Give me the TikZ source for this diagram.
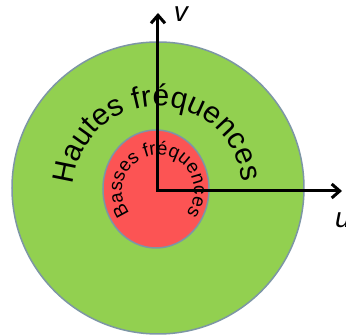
\documentclass[tikz,border=0pt]{standalone}
\usepackage{fontspec}
\setmainfont{Liberation Sans}
\usetikzlibrary{arrows.meta,decorations.text}
\definecolor{highgreen}{RGB}{146,208,80}
\definecolor{lowred}{RGB}{252,84,84}
\definecolor{rimgray}{RGB}{125,150,165}

\begin{document}
\begin{tikzpicture}[x=1pt,y=1pt,
  zone/.style={draw=rimgray, line width=1.5pt},
  axes/.style={{Straight Barb[length=8pt,width=14pt]}-{Straight Barb[length=8pt,width=14pt]}, line width=3pt},
  axislabel/.style={font=\fontsize{28}{30}\selectfont\itshape}
]
\useasboundingbox (-158,-145) rectangle (188,191);
\fill[white] (-158,-145) rectangle (188,191);
% frequency zones
\draw[zone, fill=highgreen] (0,3) circle[radius=146];
\draw[zone, fill=lowred] (-2,2) ellipse[x radius=53, y radius=59];
\path[decorate, decoration={text along path, text align=center,
  text={|\fontsize{30}{32}\selectfont|Hautes fréquences}}]
  (190:85) arc[start angle=190, end angle=-8, radius=85];
\path[decorate, decoration={text along path, text align=center,
  text={|\fontsize{19}{20}\selectfont|Basses fréquences}}]
  (235:36) arc[start angle=235, end angle=-55, radius=36];
% axes
\coordinate (O) at (0,0);
\coordinate (vend) at (0,178);
\coordinate (uend) at (184,0);
\draw[axes] (vend) -- (O) -- (uend);
\node[axislabel] (vlab) at (23,177) {v};
\node[axislabel] (ulab) at (185,-29) {u};
\end{tikzpicture}
\end{document}
